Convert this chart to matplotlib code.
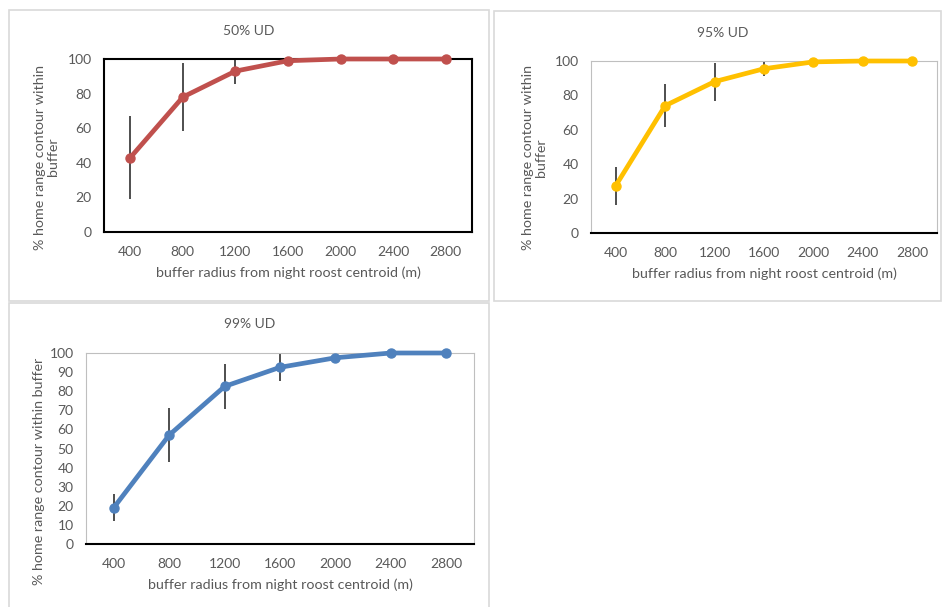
import numpy as np
import matplotlib
matplotlib.use("Agg")
import matplotlib.pyplot as plt
from matplotlib.patches import Rectangle

plt.rcParams['font.family'] = ['Lato', 'DejaVu Sans']

# buffer radii (categories on x axis)
radius = ['400', '800', '1200', '1600', '2000', '2400', '2800']

# mean % of home range contour inside buffer, with error bars
ud50 = [43, 78, 93, 99, 100, 100, 100]
ud50_err = [24, 19.5, 7.5, 1, 0, 0, 0]
ud95 = [27.5, 74, 88, 95.5, 99.5, 100, 100]
ud95_err = [11, 12.5, 11, 4.5, 0.5, 0, 0]
ud99 = [19, 57, 82.5, 92.5, 97.5, 100, 100]
ud99_err = [7, 14, 12, 7, 1.5, 0, 0]

W, H = 942, 607
fig = plt.figure(figsize=(W / 100, H / 100), dpi=100)
txt = '#595959'


def px_axes(left, right, top, bottom):
    return fig.add_axes([left / W, 1 - bottom / H, (right - left) / W, (bottom - top) / H])


def px_text(x, y, s, **kw):
    fig.text(x / W, 1 - y / H, s, color=txt, ha='center', va='center', **kw)


def frame(left, right, top, bottom):
    fig.patches.append(Rectangle((left / W, 1 - bottom / H), (right - left) / W, (bottom - top) / H,
                                 transform=fig.transFigure, fill=False, edgecolor='#D9D9D9', lw=1.2))


def panel(ax, vals, errs, color, yticks, black_box=False):
    x = np.arange(len(radius))
    ax.errorbar(x, vals, yerr=errs, fmt='none', ecolor='#404040', elinewidth=1.3, capsize=0, zorder=2)
    ax.plot(x, vals, color=color, lw=3.4, marker='o', ms=6.5, zorder=3, clip_on=False)
    ax.set_xlim(-0.5, len(radius) - 0.5)
    ax.set_ylim(0, 100)
    ax.set_xticks(x)
    ax.set_xticklabels(radius)
    ax.set_yticks(yticks)
    ax.tick_params(length=0, labelsize=10, colors=txt)
    ax.tick_params(axis='y', pad=9)
    ax.tick_params(axis='x', pad=10)
    ax.set_xlabel('buffer radius from night roost centroid (m)', fontsize=10.3, color=txt, labelpad=6)
    for s in ax.spines.values():
        if black_box:
            s.set_color('black')
            s.set_linewidth(1.5)
        else:
            s.set_color('#BFBFBF')
            s.set_linewidth(0.8)
    ax.spines['bottom'].set_color('black')
    ax.spines['bottom'].set_linewidth(1.5)


frame(9, 489, 10, 301)
frame(494, 941, 11, 301)
frame(9, 489, 303, 612)

ax1 = px_axes(104, 472, 59, 232)
panel(ax1, ud50, ud50_err, '#C0504D', range(0, 101, 20), black_box=True)
px_text(249, 31, '50% UD', fontsize=10)
px_text(47, 157, '% home range contour within\nbuffer', fontsize=10.3, rotation=90, linespacing=1.1)

ax2 = px_axes(591, 937, 61, 233)
panel(ax2, ud95, ud95_err, '#FFC000', range(0, 101, 20))
px_text(723, 33, '95% UD', fontsize=10)
px_text(534, 158, '% home range contour within\nbuffer', fontsize=10.3, rotation=90, linespacing=1.1)

ax3 = px_axes(86, 474, 353, 544)
panel(ax3, ud99, ud99_err, '#4F81BD', range(0, 101, 10))
px_text(250, 324, '99% UD', fontsize=10)
px_text(39, 471, '% home range contour within buffer', fontsize=10.3, rotation=90)

fig.savefig('out.png', dpi=100)
